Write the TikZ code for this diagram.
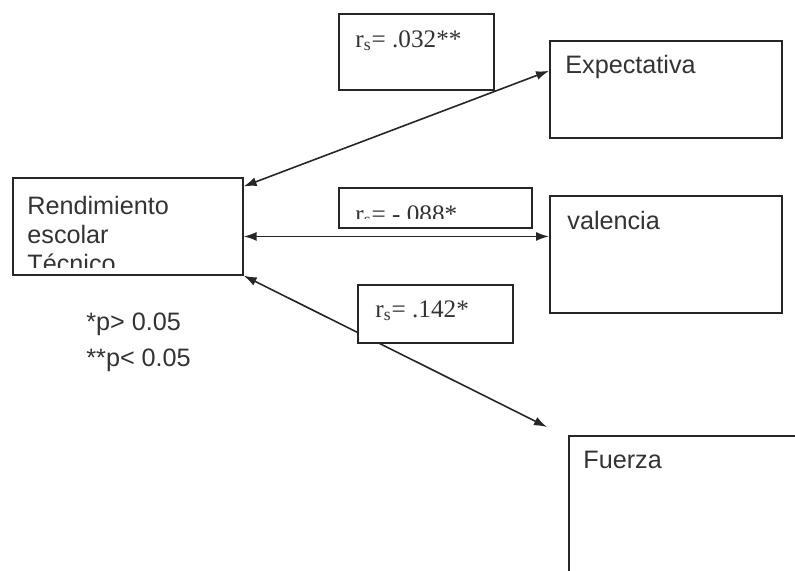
\documentclass[tikz,border=0pt]{standalone}
\usepackage{fontspec}
\setmainfont{Liberation Sans}
\newfontfamily\coeffont{Liberation Serif}
\usetikzlibrary{calc}
\usetikzlibrary{arrows.meta}
\tikzset{>={Latex[length=6.5pt,width=4.5pt]}}
\tikzstyle{block} = [draw=black!85, line width=0.8pt, fill=white, rectangle,
    inner sep=0pt, anchor=north west, minimum width=116pt, minimum height=48.5pt]
\tikzstyle{coef} = [block, minimum width=77.5pt, minimum height=38pt]
\tikzstyle{label} = [anchor=base west, inner sep=0pt, text=black!80, align=left,
    font=\fontsize{12.6}{14.5}\selectfont]
\tikzstyle{coeflabel} = [label, font=\coeffont\fontsize{12.6}{14.5}\selectfont]
\tikzstyle{link} = [<->, draw=black!85, line width=0.8pt]

\begin{document}
\begin{tikzpicture}[x=0.5pt, y=-0.5pt]
    \useasboundingbox (0,0) rectangle (795,570);
    \clip (0,0) rectangle (795,570);
    % We start by placing the variable boxes
    \node [block, minimum width=115pt] (rend) at (12,177) {};
    \node [block] (expect) at (549,40) {};
    \node [block, minimum height=58.5pt] (val) at (549,195) {};
    \node [block, minimum height=75pt] (fuerza) at (568,435) {};

    % Their texts sit in the top left corner, cut at the bottom
    % (base of a multi-line node is its last line)
    \begin{scope}
        \clip (rend.north west) rectangle ($(rend.south east)+(0,-8)$);
        \node [label] (rendtext) at ($(rend.north west)+(15,95)$)
            {Rendimiento\\escolar\\Técnico};
    \end{scope}
    \node [label] (expecttext) at ($(expect.north west)+(16,33)$) {Expectativa};
    \node [label] (valtext) at ($(val.north west)+(18,34)$) {valencia};
    \node [label] (fuerzatext) at ($(fuerza.north west)+(15,33)$) {Fuerza};

    % The correlations, drawn before the coefficient boxes
    \draw [link] (rend.19) -- (expect.171);
    \draw [link] (rend.-5) -- (rend.-5 -| val.west);
    \draw [link] (rend.south east) -- ($(fuerza.north west)+(-21,-8)$);

    % Coefficient boxes
    \node [coef] (coef1) at (338,13) {};
    \node [coef, minimum width=96.5pt, minimum height=20pt] (coef2) at (338,187) {};
    \node [coef, minimum height=29pt] (coef3) at (357,284) {};
    \node [coeflabel] (coef1text) at ($(coef1.north west)+(17,34)$)
        {r\textsubscript{s}= .032**};
    \begin{scope}
        \clip (coef2.north west) rectangle ($(coef2.south east)+(0,-10)$);
        \node [coeflabel] (coef2text) at ($(coef2.north west)+(17,35)$)
            {r\textsubscript{s}= -.088*};
    \end{scope}
    \node [coeflabel] (coef3text) at ($(coef3.north west)+(18,33)$)
        {r\textsubscript{s}= .142*};

    % Significance notes
    \node [label] (note1) at (86,330) {*p> 0.05};
    \node [label] (note2) at (86,366) {**p< 0.05};
\end{tikzpicture}
\end{document}
